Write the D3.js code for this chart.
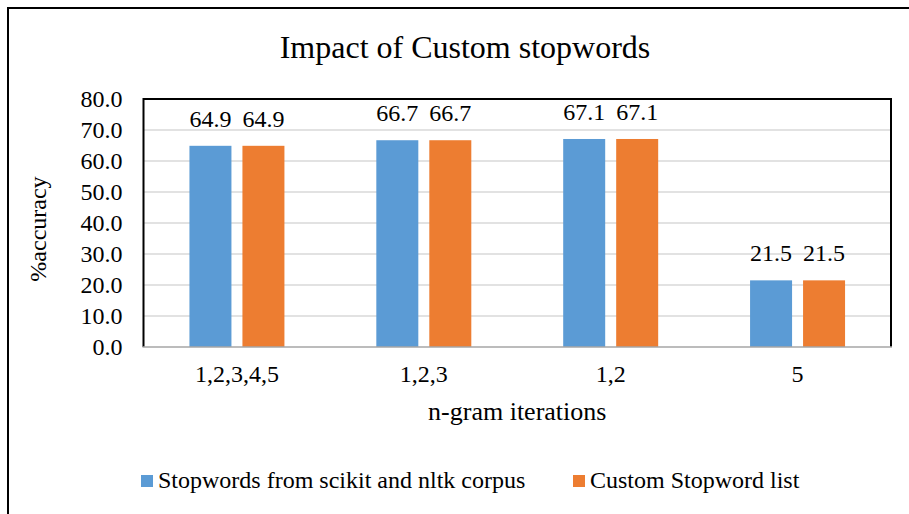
<!DOCTYPE html>
<html><head><meta charset="utf-8">
<script src="https://cdn.jsdelivr.net/npm/d3@7"></script>
<style>
html,body{margin:0;padding:0;background:#fff;}
svg{display:block;}
svg text{font-family:"Liberation Serif","Times New Roman",serif;fill:#000;}
</style></head>
<body><svg id="c" width="909" height="514"></svg>
<script>
const categories = ["1,2,3,4,5", "1,2,3", "1,2", "5"];
const seriesNames = ["Stopwords from scikit and nltk corpus", "Custom Stopword list"];
const scikitValues = [64.9, 66.7, 67.1, 21.5];
const customValues = [64.9, 66.7, 67.1, 21.5];
const yTicks = [0, 10, 20, 30, 40, 50, 60, 70, 80];
const colors = ["#5B9BD5", "#ED7D31"];

const svg = d3.select("#c");
const L = 143.5, R = 891, T = 99, B = 347;
const FONT = "Liberation Serif";

// outer border
svg.append("rect").attr("x", 8).attr("y", 8).attr("width", 1000).attr("height", 1000)
  .attr("fill", "none").attr("stroke", "#000").attr("stroke-width", 2);

const x = d3.scaleBand().domain(categories).range([L, R]).paddingInner(0).paddingOuter(0);
const y = d3.scaleLinear().domain([0, 80]).range([B, T]);
const xs = d3.scaleBand().domain([0, 1]).range([0, x.bandwidth()]).paddingInner(0.2075).paddingOuter(0.867);

// gridlines
svg.append("g").selectAll("line").data(yTicks.filter(d => d > 0)).join("line")
  .attr("x1", L).attr("x2", R).attr("y1", d => y(d)).attr("y2", d => y(d))
  .attr("stroke", "#d9d9d9").attr("stroke-width", 1.3);

const series = [scikitValues, customValues];
const data = [];
categories.forEach((c, i) => series.forEach((s, j) => data.push({c, j, v: s[i]})));

svg.append("g").selectAll("rect").data(data).join("rect")
  .attr("x", d => x(d.c) + xs(d.j)).attr("width", xs.bandwidth())
  .attr("y", d => y(d.v)).attr("height", d => B - y(d.v))
  .attr("fill", d => colors[d.j]);

svg.append("g").selectAll("text").data(data).join("text")
  .attr("x", d => x(d.c) + xs(d.j) + xs.bandwidth() / 2)
  .attr("y", d => y(d.v) - 19)
  .attr("text-anchor", "middle").attr("font-size", 24).attr("font-family", FONT)
  .text(d => d.v.toFixed(1));

// plot border
svg.append("path").attr("d", `M${L},${B}V${T}H${R}V${B}`).attr("fill", "none")
  .attr("stroke", "#000").attr("stroke-width", 2);
// x axis line
svg.append("line").attr("x1", L - 1).attr("x2", R + 1).attr("y1", B).attr("y2", B)
  .attr("stroke", "#a6a6a6").attr("stroke-width", 1.5);

// y axis labels
const yAxis = d3.axisLeft(y).tickValues(yTicks).tickSize(0).tickPadding(0).tickFormat(d => d.toFixed(1));
const ya = svg.append("g").attr("transform", `translate(${L - 21},0)`).call(yAxis)
  .attr("font-family", FONT);
ya.select(".domain").remove();
ya.selectAll("text").attr("font-size", 24).attr("font-family", FONT).attr("dy", "0.32em");

// x axis labels
const xAxis = d3.axisBottom(x).tickSize(0).tickPadding(0);
const xa = svg.append("g").attr("transform", `translate(0,${B})`).call(xAxis)
  .attr("font-family", FONT);
xa.select(".domain").remove();
xa.selectAll("text").attr("font-size", 24).attr("font-family", FONT)
  .attr("dy", null).attr("y", 35);

// titles
svg.append("text").attr("x", 465).attr("y", 58).attr("text-anchor", "middle")
  .attr("font-size", 32).attr("font-family", FONT).text("Impact of Custom stopwords");
svg.append("text").attr("x", (L + R) / 2).attr("y", 420).attr("text-anchor", "middle")
  .attr("font-size", 26).attr("font-family", FONT).text("n-gram iterations");
svg.append("text").attr("transform", `translate(46,229) rotate(-90)`)
  .attr("text-anchor", "middle").attr("font-size", 24).attr("font-family", FONT).text("%accuracy");

// legend
const legX = [141, 573];
const lg = svg.append("g").selectAll("g").data(seriesNames).join("g")
  .attr("transform", (d, i) => `translate(${legX[i]},475)`);
lg.append("rect").attr("width", 12).attr("height", 12).attr("fill", (d, i) => colors[i]);
lg.append("text").attr("x", 17).attr("y", 13).attr("font-size", 24).attr("font-family", FONT).text(d => d);
</script></body></html>
